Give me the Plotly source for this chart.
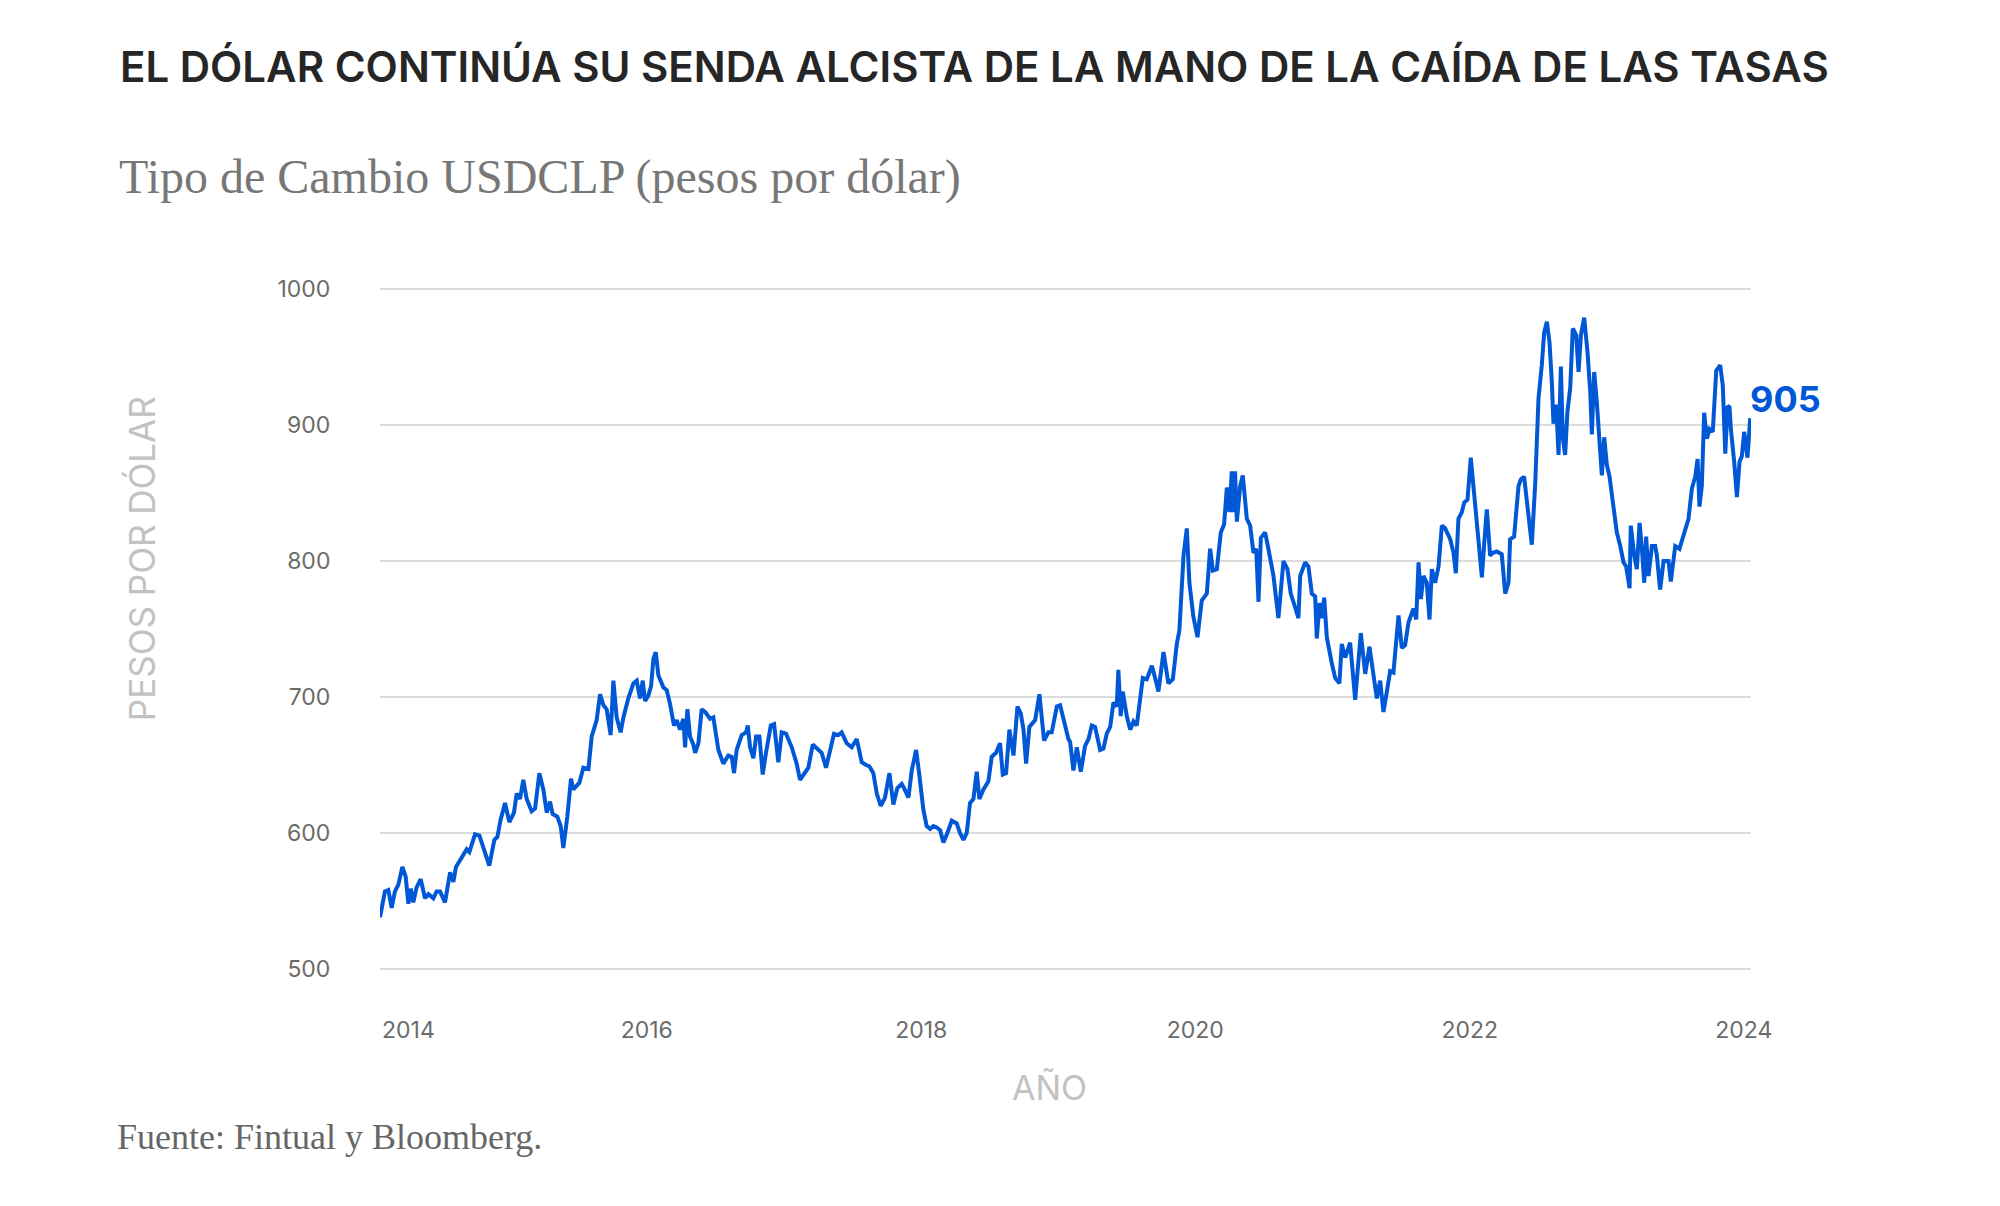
import numpy as np
import pandas as pd
import plotly.graph_objects as go

# Tipo de cambio USDCLP (año decimal, pesos por dólar)
anios = [
    2014.053, 2014.089, 2014.114, 2014.138, 2014.162, 2014.187, 2014.216, 2014.240, 2014.260, 2014.277,
    2014.296, 2014.320, 2014.350, 2014.381, 2014.406, 2014.442, 2014.466, 2014.491, 2014.527, 2014.564,
    2014.588, 2014.607, 2014.649, 2014.685, 2014.705, 2014.746, 2014.778, 2014.819, 2014.850, 2014.887,
    2014.909, 2014.933, 2014.965, 2014.996, 2015.030, 2015.050,
    2015.074, 2015.098, 2015.123, 2015.159, 2015.184, 2015.215, 2015.244, 2015.269, 2015.293, 2015.312,
    2015.346, 2015.371, 2015.390, 2015.419, 2015.446, 2015.463, 2015.507, 2015.536, 2015.573, 2015.597,
    2015.633, 2015.658, 2015.682, 2015.706, 2015.735, 2015.755, 2015.779, 2015.808, 2015.828, 2015.864,
    2015.901, 2015.925, 2015.949, 2015.969, 2015.986, 2016.010, 2016.030, 2016.047,
    2016.064, 2016.083, 2016.120, 2016.144, 2016.168, 2016.197, 2016.217, 2016.241, 2016.265, 2016.278,
    2016.295, 2016.314, 2016.338, 2016.351, 2016.375, 2016.399, 2016.424, 2016.460, 2016.484, 2016.521,
    2016.557, 2016.594, 2016.618, 2016.635, 2016.654, 2016.691, 2016.723, 2016.735, 2016.752, 2016.776,
    2016.796, 2016.820, 2016.844, 2016.868, 2016.903, 2016.927, 2016.958, 2016.983, 2017.014,
    2017.056, 2017.092, 2017.116, 2017.153, 2017.177, 2017.209, 2017.250, 2017.274, 2017.306, 2017.335,
    2017.364, 2017.396, 2017.420, 2017.457, 2017.493, 2017.530, 2017.566, 2017.598, 2017.622, 2017.651,
    2017.676, 2017.705, 2017.736, 2017.768, 2017.797, 2017.826, 2017.858, 2017.875, 2017.907, 2017.931,
    2017.963, 2017.987, 2018.016, 2018.040,
    2018.065, 2018.089, 2018.113, 2018.138, 2018.162, 2018.191, 2018.223, 2018.259, 2018.283, 2018.308,
    2018.332, 2018.356, 2018.381, 2018.405, 2018.424, 2018.454, 2018.490, 2018.514, 2018.546, 2018.575,
    2018.595, 2018.619, 2018.643, 2018.673, 2018.702, 2018.726, 2018.746, 2018.765, 2018.789, 2018.831,
    2018.862, 2018.896, 2018.928, 2018.952, 2018.989, 2019.013, 2019.049,
    2019.074, 2019.086, 2019.110, 2019.135, 2019.164, 2019.195, 2019.220, 2019.244, 2019.268, 2019.305,
    2019.329, 2019.353, 2019.378, 2019.402, 2019.426, 2019.438, 2019.455, 2019.470, 2019.499, 2019.524,
    2019.548, 2019.572, 2019.596, 2019.616, 2019.645, 2019.682, 2019.706, 2019.730, 2019.767, 2019.803,
    2019.835, 2019.864, 2019.883, 2019.913, 2019.937, 2019.956, 2019.985, 2020.015, 2020.046,
    2020.083, 2020.107, 2020.127, 2020.156, 2020.185, 2020.209, 2020.229, 2020.248, 2020.265, 2020.277,
    2020.289, 2020.302, 2020.326, 2020.345, 2020.375, 2020.399, 2020.423, 2020.443, 2020.460, 2020.477,
    2020.508, 2020.532, 2020.569, 2020.605, 2020.642, 2020.671, 2020.695, 2020.727, 2020.751, 2020.764,
    2020.800, 2020.824, 2020.849, 2020.873, 2020.885, 2020.905, 2020.922, 2020.939, 2020.958, 2020.994,
    2021.019, 2021.050,
    2021.067, 2021.092, 2021.128, 2021.165, 2021.189, 2021.206, 2021.238, 2021.269, 2021.293, 2021.323,
    2021.347, 2021.371, 2021.396, 2021.420, 2021.444, 2021.481, 2021.505, 2021.529, 2021.554, 2021.590,
    2021.610, 2021.627, 2021.644, 2021.663, 2021.687, 2021.707, 2021.724, 2021.748, 2021.773, 2021.797,
    2021.821, 2021.858, 2021.882, 2021.899, 2021.918, 2021.943, 2021.960, 2021.984, 2022.008, 2022.028,
    2022.047,
    2022.064, 2022.089, 2022.106, 2022.125, 2022.149, 2022.169, 2022.198, 2022.234, 2022.259, 2022.283,
    2022.295, 2022.324, 2022.356, 2022.373, 2022.397, 2022.417, 2022.453, 2022.478, 2022.502, 2022.526,
    2022.543, 2022.563, 2022.582, 2022.599, 2022.611, 2022.631, 2022.648, 2022.665, 2022.679, 2022.696,
    2022.713, 2022.733, 2022.752, 2022.777, 2022.794, 2022.811, 2022.835, 2022.859, 2022.879, 2022.891,
    2022.908, 2022.927, 2022.947, 2022.964, 2022.981, 2023.000, 2023.020, 2023.049,
    2023.073, 2023.098, 2023.122, 2023.141, 2023.166, 2023.175, 2023.200, 2023.219, 2023.239, 2023.256,
    2023.273, 2023.287, 2023.304, 2023.329, 2023.353, 2023.365, 2023.389, 2023.414, 2023.450, 2023.467,
    2023.499, 2023.530, 2023.560, 2023.596, 2023.620, 2023.645, 2023.662, 2023.676, 2023.693, 2023.710,
    2023.730, 2023.749, 2023.773, 2023.798, 2023.827, 2023.846, 2023.864, 2023.881, 2023.895, 2023.905,
    2023.929, 2023.949, 2023.968, 2023.985, 2024.002, 2024.026, 2024.046,
]

usdclp = [
    538, 557, 558, 545, 557, 562, 575, 568, 548, 559,
    549, 560, 566, 552, 555, 552, 557, 557, 549, 571,
    564, 575, 582, 588, 586, 599, 598, 586, 576, 595,
    597, 610, 622, 608, 615, 629,
    625, 639, 625, 616, 618, 644, 632, 615, 623, 614,
    612, 605, 589, 612, 640, 632, 637, 648, 647, 671,
    683, 702, 694, 691, 672, 712, 685, 674, 685, 699,
    710, 712, 699, 712, 697, 701, 708, 728,
    733, 716, 707, 705, 695, 679, 683, 676, 684, 663,
    691, 671, 665, 659, 666, 691, 689, 684, 685, 661,
    651, 657, 656, 644, 661, 672, 674, 679, 663, 655,
    671, 671, 643, 659, 679, 680, 652, 674, 673,
    663, 651, 639, 644, 648, 665, 661, 659, 648, 661,
    673, 672, 674, 666, 663, 669, 652, 650, 649, 644,
    629, 620, 626, 644, 621, 633, 636, 633, 626, 646,
    661, 642, 617, 605,
    603, 605, 604, 602, 593, 600, 609, 607, 600, 595,
    600, 622, 625, 645, 625, 632, 638, 656, 659, 666,
    643, 644, 676, 657, 693, 688, 676, 651, 678, 683,
    702, 668, 674, 674, 693, 694, 678,
    669, 667, 646, 663, 645, 664, 669, 679, 678, 661,
    662, 673, 678, 696, 693, 720, 686, 704, 686, 676,
    682, 679, 696, 714, 713, 723, 714, 704, 733, 710,
    713, 739, 749, 804, 824, 784, 759, 744, 771,
    776, 809, 793, 794, 821, 827, 854, 836, 866, 836,
    866, 829, 855, 863, 831, 826, 806, 809, 770, 817,
    821, 809, 789, 758, 800, 794, 776, 766, 758, 789,
    799, 796, 776, 774, 743, 769, 758, 773, 744, 725,
    714, 710,
    739, 729, 740, 698, 729, 747, 717, 737, 720, 699,
    712, 689, 704, 719, 718, 760, 736, 738, 755, 765,
    757, 799, 772, 789, 784, 757, 794, 784, 796, 826,
    824, 816, 806, 791, 831, 836, 843, 845, 876, 854,
    838,
    822, 788, 813, 838, 804, 806, 807, 805, 776, 784,
    816, 818, 855, 860, 862, 843, 812, 857, 920, 944,
    968, 976, 961, 932, 901, 915, 878, 943, 891, 878,
    910, 927, 971, 966, 939, 966, 979, 954, 925, 893,
    939, 917, 891, 863, 891, 871, 862, 840,
    821, 811, 799, 796, 780, 826, 804, 794, 828, 809,
    784, 818, 789, 811, 811, 804, 779, 800, 800, 785,
    811, 809, 818, 831, 853, 862, 875, 840, 855, 909,
    890, 897, 895, 940, 944, 929, 879, 914, 913, 897,
    873, 847, 873, 877, 895, 876, 905,
]

anios_ticks = [2016, 2018, 2020, 2022, 2024]
valores_y = [500, 600, 700, 800, 900, 1000]

AZUL = "#0058d6"
GRIS_TICK = "#6b6b6b"
GRIS_TITULO_EJE = "#c2c2c2"

base = pd.Timestamp("2014-01-01")
fechas = base + pd.to_timedelta((np.array(anios) - 2014) * 365.25, unit="D")
fechas_ticks = [pd.Timestamp(f"{a}-01-01") for a in anios_ticks]
rango_x = [fechas[0], fechas[0] + pd.Timedelta(days=3652)]

fig = go.Figure()
fig.add_trace(go.Scatter(
    x=fechas,
    y=usdclp,
    mode="lines",
    line=dict(color=AZUL, width=4),
    hoverinfo="x+y",
    showlegend=False,
))

fig.update_xaxes(
    range=rango_x,
    tickvals=fechas_ticks,
    ticktext=[str(a) for a in anios_ticks],
    ticks="outside",
    ticklen=38,
    tickcolor="rgba(0,0,0,0)",
    tickfont=dict(family="Inter", size=23, color=GRIS_TICK),
    showgrid=False,
    zeroline=False,
    showline=False,
)
fig.update_yaxes(
    range=[498.5, 1001.5],
    tickvals=valores_y,
    ticks="outside",
    ticklen=44,
    tickcolor="rgba(0,0,0,0)",
    tickfont=dict(family="Inter", size=23, color=GRIS_TICK),
    showgrid=True,
    gridcolor="#dcdcdc",
    gridwidth=1.5,
    zeroline=False,
    showline=False,
)

anotaciones = [
    dict(text="EL DÓLAR CONTINÚA SU SENDA ALCISTA DE LA MANO DE LA CAÍDA DE LAS TASAS",
         x=-0.191, y=1.323, xanchor="left", yanchor="middle",
         font=dict(family="Inter", size=42, color="#262626", weight=600)),
    dict(text="Tipo de Cambio USDCLP (pesos por dólar)",
         x=-0.192, y=1.161, xanchor="left", yanchor="middle",
         font=dict(family="Liberation Serif", size=48, color="#777777")),
    dict(text="PESOS POR DÓLAR", textangle=-90,
         x=-0.1736, y=0.6036, xanchor="center", yanchor="middle",
         font=dict(family="Inter", size=35, color=GRIS_TITULO_EJE)),
    dict(text="AÑO",
         x=0.488, y=-0.1703, xanchor="center", yanchor="middle",
         font=dict(family="Inter", size=34, color=GRIS_TITULO_EJE)),
    dict(text="Fuente: Fintual y Bloomberg.",
         x=-0.193, y=-0.242, xanchor="left", yanchor="middle",
         font=dict(family="Liberation Serif", size=36, color="#666666")),
]
for a in anotaciones:
    a.update(xref="paper", yref="paper", showarrow=False)

# etiqueta del primer año alineada a la izquierda, como en el original
anotaciones.append(dict(
    text="2014", x=rango_x[0], xref="x", y=0, yref="paper",
    xanchor="left", yanchor="middle", yshift=-59, showarrow=False,
    font=dict(family="Inter", size=23, color=GRIS_TICK),
))
# último valor
anotaciones.append(dict(
    text="905", x=fechas[-1], y=usdclp[-1], xref="x", yref="y",
    xanchor="left", yanchor="middle", xshift=-2, yshift=19, showarrow=False,
    font=dict(family="Inter", size=36, color=AZUL, weight=700),
))

# la página deja 8 px de margen en el body: la figura se ajusta a eso
fig.update_layout(
    width=1984,
    height=1190,
    margin=dict(l=372, r=241, t=279, b=227),
    plot_bgcolor="white",
    paper_bgcolor="white",
    annotations=anotaciones,
    hovermode="x",
)

fig.write_html("out.html")
